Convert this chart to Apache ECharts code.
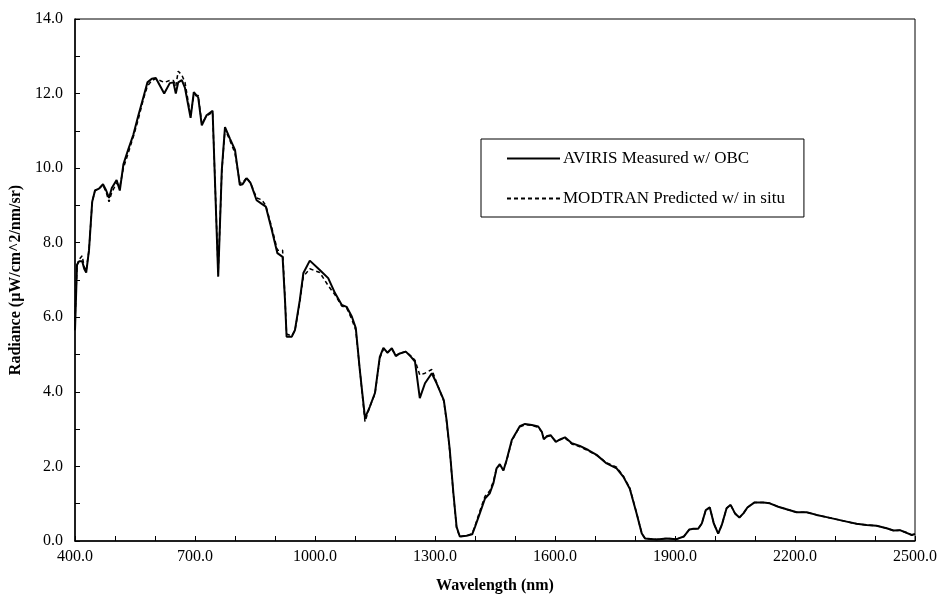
<!DOCTYPE html>
<html>
<head>
<meta charset="utf-8">
<script src="https://cdn.jsdelivr.net/npm/echarts@6/dist/echarts.min.js"></script>
<style>html,body{margin:0;padding:0;background:#fff;}#c{width:939px;height:596px;}</style>
</head>
<body>
<div id="c"></div>
<script>
var wavelengths = [400,405,410,418,423,428,435,443,450,460,470,478,485,492,504,512,521,533,546,558,571,581,592,602,623,637,646,652,658,667,675,689,697,708,717,729,744,747,758,767,775,787,800,812,819,829,839,854,867,877,892,906,919,925,929,942,950,962,971,987,1012,1033,1050,1067,1079,1092,1102,1112,1125,1137,1150,1162,1171,1181,1192,1202,1212,1227,1240,1250,1262,1275,1292,1304,1322,1329,1337,1346,1354,1362,1379,1393,1400,1412,1425,1437,1446,1454,1462,1471,1479,1492,1504,1512,1525,1542,1558,1567,1572,1581,1589,1602,1614,1625,1642,1662,1683,1704,1729,1754,1771,1787,1804,1817,1825,1854,1879,1904,1922,1936,1946,1958,1967,1977,1987,1997,2008,2017,2029,2039,2050,2061,2071,2081,2098,2121,2137,2158,2179,2204,2229,2254,2279,2304,2329,2354,2379,2404,2429,2446,2462,2479,2492,2500];
var aviris = [5.65,7.4,7.5,7.5,7.3,7.2,7.8,9.1,9.4,9.45,9.57,9.4,9.2,9.47,9.68,9.4,10.1,10.5,10.9,11.4,11.9,12.3,12.4,12.42,12.0,12.28,12.3,12.0,12.3,12.36,12.15,11.35,12.04,11.9,11.15,11.42,11.54,11.5,7.09,9.95,11.1,10.8,10.49,9.55,9.57,9.73,9.6,9.14,9.04,8.97,8.34,7.72,7.62,6.46,5.48,5.48,5.66,6.46,7.19,7.52,7.27,7.05,6.65,6.33,6.28,6.02,5.71,4.59,3.3,3.6,3.97,4.94,5.18,5.05,5.17,4.96,5.03,5.08,4.94,4.81,3.83,4.23,4.5,4.23,3.78,3.24,2.44,1.28,0.38,0.12,0.14,0.18,0.38,0.74,1.14,1.28,1.55,1.95,2.06,1.89,2.17,2.71,2.93,3.08,3.14,3.11,3.07,2.93,2.73,2.82,2.84,2.66,2.73,2.78,2.62,2.55,2.44,2.31,2.08,1.95,1.72,1.4,0.74,0.2,0.07,0.04,0.07,0.05,0.12,0.31,0.33,0.33,0.47,0.83,0.9,0.47,0.2,0.43,0.88,0.97,0.74,0.63,0.74,0.9,1.03,1.03,1.01,0.92,0.85,0.77,0.77,0.7,0.64,0.58,0.52,0.46,0.43,0.41,0.34,0.28,0.29,0.22,0.16,0.19];
var modtran = [5.9,7.4,7.55,7.65,7.35,7.25,7.8,9.1,9.4,9.45,9.55,9.35,9.1,9.35,9.6,9.5,10.0,10.4,10.85,11.3,11.85,12.2,12.35,12.4,12.3,12.35,12.35,12.2,12.6,12.5,12.3,11.4,11.95,11.95,11.2,11.4,11.5,11.5,7.2,9.9,11.05,10.75,10.4,9.6,9.6,9.75,9.6,9.2,9.15,9.0,8.4,7.8,7.8,6.5,5.55,5.5,5.65,6.4,7.1,7.3,7.2,6.85,6.6,6.3,6.25,5.95,5.65,4.6,3.2,3.6,3.95,4.9,5.15,5.05,5.15,4.98,5.03,5.08,4.96,4.85,4.45,4.5,4.6,4.25,3.75,3.2,2.4,1.25,0.35,0.12,0.14,0.2,0.4,0.8,1.2,1.35,1.6,1.95,2.04,1.9,2.15,2.68,2.92,3.06,3.12,3.1,3.05,2.92,2.75,2.8,2.82,2.68,2.72,2.76,2.6,2.53,2.42,2.3,2.1,1.98,1.74,1.42,0.75,0.2,0.07,0.04,0.07,0.05,0.12,0.31,0.33,0.33,0.47,0.83,0.9,0.47,0.2,0.43,0.88,0.97,0.74,0.63,0.74,0.9,1.03,1.03,1.01,0.92,0.85,0.77,0.77,0.7,0.64,0.58,0.52,0.46,0.43,0.41,0.34,0.28,0.29,0.22,0.16,0.19];
var seriesNames = ['AVIRIS Measured w/ OBC', 'MODTRAN Predicted w/ in situ'];

function pairs(xs, ys){ var out=[]; for (var i=0;i<xs.length;i++) out.push([xs[i], ys[i]]); return out; }
var font = '"Liberation Serif", "Times New Roman", serif';
var chart = echarts.init(document.getElementById('c'), null, {renderer:'canvas'});
chart.setOption({
  animation:false,
  backgroundColor:'#fff',
  textStyle:{fontFamily:font, color:'#000'},
  grid:{left:75, right:24, top:19, bottom:55, show:true, borderColor:'#000', borderWidth:1,
        containLabel:false, outerBoundsMode:'none'},
  legend:{
    left:481, top:139, orient:'vertical',
    padding:[11,19,10,25], itemGap:23, itemWidth:53, itemHeight:14,
    borderColor:'#000', borderWidth:1, backgroundColor:'#fff',
    itemStyle:{opacity:0},
    textStyle:{fontFamily:font, fontSize:17, color:'#000', padding:[0,0,0,-2]},
    data:seriesNames
  },
  xAxis:{
    type:'value', min:400, max:2500, interval:300,
    name:'Wavelength (nm)', nameLocation:'middle', nameGap:37,
    nameTextStyle:{fontFamily:font, fontSize:16, fontWeight:'bold', color:'#000'},
    axisLine:{lineStyle:{color:'#000', width:1.5}},
    axisTick:{inside:true, length:5, lineStyle:{color:'#000'}},
    minorTick:{show:true, splitNumber:3, length:5, lineStyle:{color:'#000'}},
    splitLine:{show:false},
    axisLabel:{fontFamily:font, fontSize:16, color:'#000', margin:8, formatter:function(v){return v.toFixed(1);}}
  },
  yAxis:{
    type:'value', min:0, max:14, interval:2,
    name:'Radiance (μW/cm^2/nm/sr)', nameLocation:'middle', nameGap:44,
    nameTextStyle:{fontFamily:font, fontSize:16, fontWeight:'bold', color:'#000'},
    axisLine:{show:true, lineStyle:{color:'#000', width:1.5}},
    axisTick:{show:true, inside:true, length:5, lineStyle:{color:'#000'}},
    minorTick:{show:true, splitNumber:2, length:5, lineStyle:{color:'#000'}},
    splitLine:{show:false},
    axisLabel:{fontFamily:font, fontSize:16, color:'#000', margin:12, formatter:function(v){return v.toFixed(1);}}
  },
  series:[
    {name:seriesNames[0], type:'line', symbol:'none', data:pairs(wavelengths, aviris),
     lineStyle:{color:'#000', width:2}, itemStyle:{color:'#000'}, z:3},
    {name:seriesNames[1], type:'line', symbol:'none', data:pairs(wavelengths, modtran),
     lineStyle:{color:'#000', width:1.5, type:[4,3]}, itemStyle:{color:'#000'}, z:2}
  ]
});
</script>
</body>
</html>
